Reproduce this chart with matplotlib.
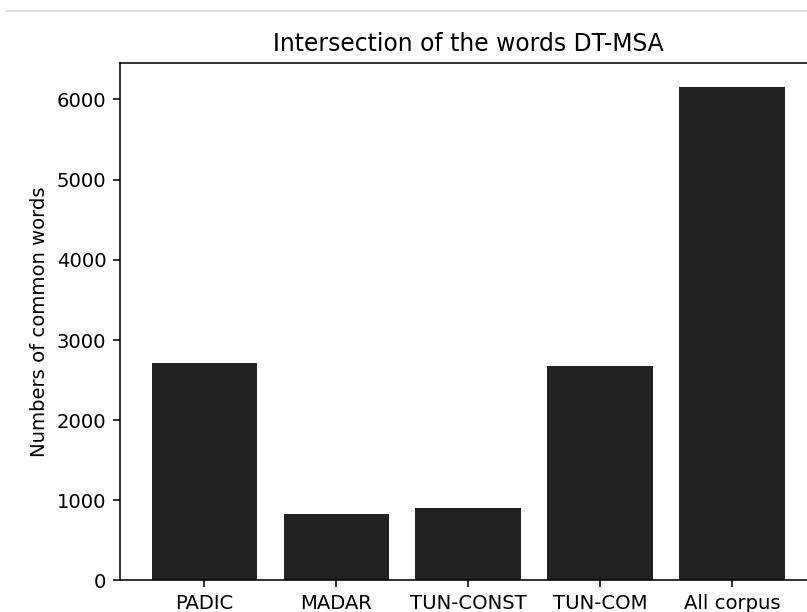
import matplotlib
matplotlib.use("Agg")
from matplotlib import pyplot as plt
from matplotlib.lines import Line2D

corpora = ["PADIC", "MADAR", "TUN-CONST", "TUN-COM", "All corpus"]
common_words = [2714, 823, 894, 2677, 6151]

DPI = 141
fig = plt.figure(figsize=(807.3 / DPI, 612.3 / DPI), dpi=DPI)
# the original is a cropped notebook output: axes runs past the right edge
ax = fig.add_axes([120 / 807, 32 / 612, 696 / 807, 517 / 612])

ax.bar(corpora, common_words, color="#212121")
ax.set_title("Intersection of the words DT-MSA")
ax.set_ylabel("Numbers of common words")

# notebook cell separator at the top
fig.add_artist(Line2D([6 / 807, 1], [1 - 11.5 / 612, 1 - 11.5 / 612],
                      color="#d4d4d4", lw=0.8))

fig.savefig("out.png", dpi=DPI)
